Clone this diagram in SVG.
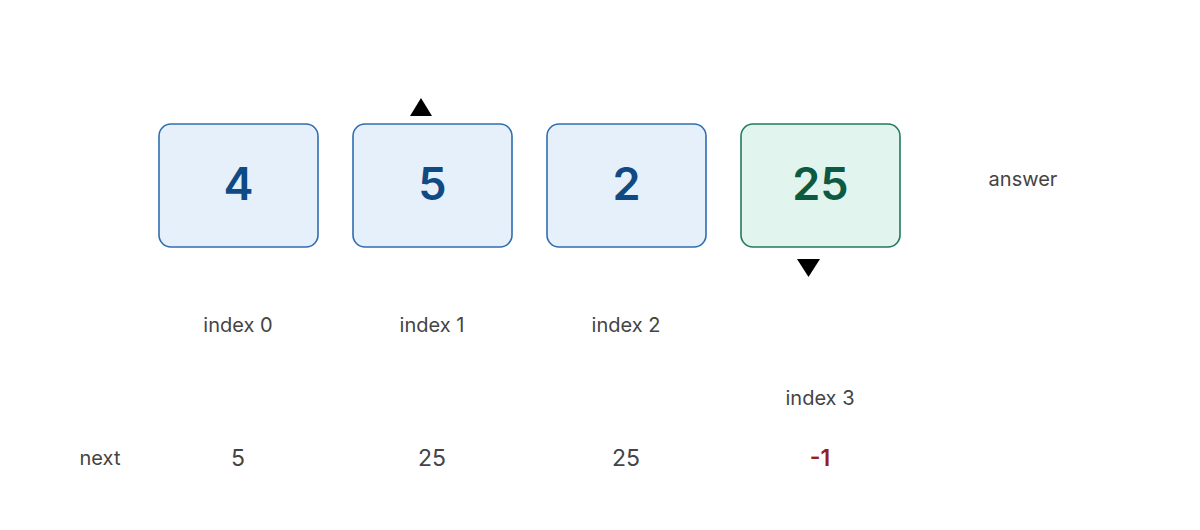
<svg xmlns="http://www.w3.org/2000/svg" width="1200" height="530" viewBox="0 0 1200 530">
<style>
.box{fill:#e6f0fb;stroke:#2f6db0;stroke-width:1.6}
.ans{fill:#e1f4ee;stroke:#227a5c;stroke-width:1.6}
.num{font-family:Inter,"Liberation Sans",sans-serif;font-size:45px;font-weight:600;fill:#0f4a85;text-anchor:middle}
.numg{fill:#0d5a42}
.lbl{font-family:Inter,"Liberation Sans",sans-serif;font-size:20px;fill:#444;text-anchor:middle}
.val{font-family:Inter,"Liberation Sans",sans-serif;font-size:23px;fill:#444;text-anchor:middle}
.neg{fill:#9b1c1c;font-weight:600}
.tri{fill:#000}
</style>
<rect width="1200" height="530" fill="#fff"/>
<g id="node0"><rect class="box" x="159" y="124" width="159" height="123" rx="12"/><text class="num" x="238.5" y="200">4</text></g>
<g id="node1"><rect class="box" x="353" y="124" width="159" height="123" rx="12"/><text class="num" x="432.5" y="200">5</text></g>
<g id="node2"><rect class="box" x="547" y="124" width="159" height="123" rx="12"/><text class="num" x="626.5" y="200">2</text></g>
<g id="node3"><rect class="ans" x="741" y="124" width="159" height="123" rx="12"/><text class="num numg" x="820.5" y="200">25</text></g>
<g id="connectors">
<polygon class="tri" points="410,116 432,116 421,98"/>
<polygon class="tri" points="797,259 820,259 808.5,277"/>
</g>
<g id="labels">
<text class="lbl" x="1023" y="186">answer</text>
<text class="lbl" x="238" y="332">index 0</text>
<text class="lbl" x="432" y="332">index 1</text>
<text class="lbl" x="626" y="332">index 2</text>
<text class="lbl" x="820" y="405">index 3</text>
<text class="lbl" x="100" y="465">next</text>
<text class="val" x="238" y="466">5</text>
<text class="val" x="432" y="466">25</text>
<text class="val" x="626" y="466">25</text>
<text class="val neg" x="820" y="466">-1</text>
</g>
</svg>
